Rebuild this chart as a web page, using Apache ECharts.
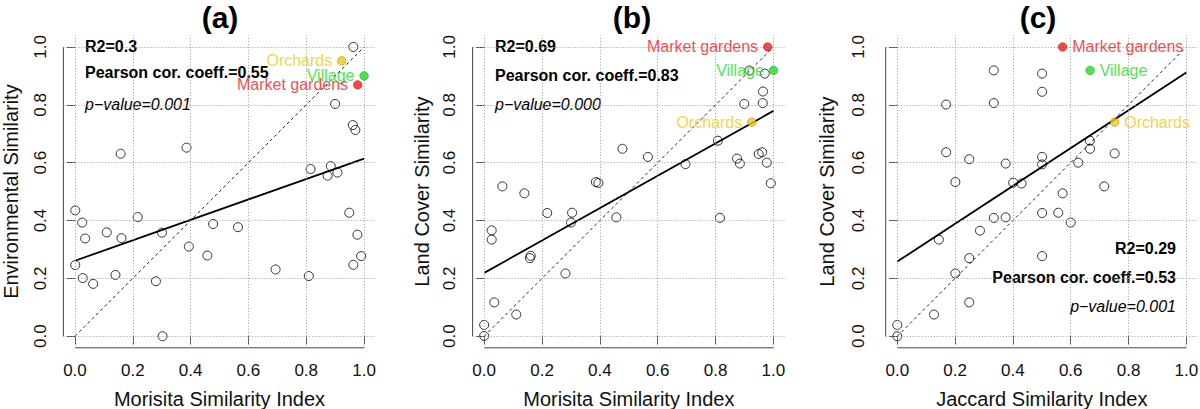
<!DOCTYPE html>
<html>
<head>
<meta charset="utf-8">
<script src="https://cdn.jsdelivr.net/npm/echarts@6/dist/echarts.min.js"></script>
<style>
  html, body { margin: 0; padding: 0; background: #fff; }
  #main { width: 1200px; height: 409px; }
</style>
</head>
<body>
<div id="main"></div>
<script>
// panel titles and axis names
const panelTitles = ["(a)", "(b)", "(c)"];
const xNames = ["Morisita Similarity Index", "Morisita Similarity Index", "Jaccard Similarity Index"];
const yNames = ["Environmental Similarity", "Land Cover Similarity", "Land Cover Similarity"];
const tickValues = [0, 0.2, 0.4, 0.6, 0.8, 1.0];

// (a) Morisita vs environmental similarity
const aX = [0.963, 0.900, 0.961, 0.970, 0.386, 0.158, 0.815, 0.885, 0.874, 0.908, 0.001, 0.949,
  0.025, 0.217, 0.478, 0.564, 0.110, 0.301, 0.035, 0.161, 0.977, 0.394, 0.458, 0.990,
  0.001, 0.963, 0.694, 0.140, 0.027, 0.809, 0.280, 0.063, 0.303];
const aY = [1.000, 0.803, 0.730, 0.713, 0.652, 0.631, 0.578, 0.588, 0.555, 0.566, 0.435, 0.427,
  0.393, 0.412, 0.388, 0.377, 0.359, 0.358, 0.338, 0.339, 0.351, 0.310, 0.279, 0.277,
  0.246, 0.247, 0.231, 0.212, 0.201, 0.208, 0.190, 0.181, 0.000];

// (b) Morisita vs land cover similarity
const bX = [0.917, 0.970, 0.964, 0.899, 0.963, 0.478, 0.566, 0.808, 0.696, 0.874, 0.884, 0.949,
  0.961, 0.977, 0.991, 0.063, 0.139, 0.386, 0.395, 0.218, 0.304, 0.300, 0.457, 0.815,
  0.026, 0.026, 0.161, 0.158, 0.281, 0.035, 0.111, 0.000, 0.000];
const bY = [0.919, 0.908, 0.846, 0.803, 0.806, 0.648, 0.620, 0.676, 0.595, 0.614, 0.597, 0.630,
  0.636, 0.600, 0.529, 0.518, 0.494, 0.533, 0.530, 0.426, 0.427, 0.393, 0.411, 0.409,
  0.366, 0.334, 0.278, 0.270, 0.217, 0.117, 0.075, 0.039, 0.001];

// (c) Jaccard vs land cover similarity
const cX = [0.334, 0.501, 0.501, 0.169, 0.334, 0.666, 0.667, 0.169, 0.752, 0.249, 0.501, 0.501,
  0.375, 0.626, 0.201, 0.401, 0.430, 0.716, 0.572, 0.334, 0.375, 0.501, 0.557, 0.600,
  0.286, 0.144, 0.249, 0.501, 0.201, 0.249, 0.127, 0.000, 0.000];
const cY = [0.919, 0.908, 0.845, 0.801, 0.806, 0.676, 0.648, 0.636, 0.632, 0.612, 0.620, 0.594,
  0.597, 0.600, 0.533, 0.531, 0.528, 0.518, 0.494, 0.409, 0.411, 0.426, 0.427, 0.393,
  0.365, 0.334, 0.270, 0.277, 0.217, 0.117, 0.075, 0.039, 0.000];

// highlighted land uses
const siteNames = ["Orchards", "Village", "Market gardens"];
const siteColors = ["#F2C80F", "#22DD22", "#EE1C1C"];
const siteBorders = ["#9a7d00", "#118811", "#991010"];
const aSiteX = [0.923, 1.000, 0.978];
const aSiteY = [0.952, 0.900, 0.869];
const bSiteX = [0.925, 1.000, 0.980];
const bSiteY = [0.740, 0.919, 1.000];
const cSiteX = [0.752, 0.667, 0.572];
const cSiteY = [0.740, 0.919, 1.000];

// fitted regression line, value at x=0 and x=1
const aFit = [0.261, 0.614];
const bFit = [0.219, 0.779];
const cFit = [0.258, 0.912];

// statistics text
const aStats = ["R2=0.3", "Pearson cor. coeff.=0.55", "p\u2212value=0.001"];
const bStats = ["R2=0.69", "Pearson cor. coeff.=0.83", "p\u2212value=0.000"];
const cStats = ["R2=0.29", "Pearson cor. coeff.=0.53", "p\u2212value=0.001"];

const FONT = "'Liberation Sans', Arial, Helvetica, sans-serif";
const LO = -0.04, HI = 1.04;

const panels = [
  { xs: aX, ys: aY, sx: aSiteX, sy: aSiteY, fit: aFit, stats: aStats, left: 63.4, width: 312.2,
    yGap: 42, yLabMargin: 14, labelPos: "left", titleX: 220, statX: 85, statAlign: "left", statY: [46, 72, 104] },
  { xs: bX, ys: bY, sx: bSiteX, sy: bSiteY, fit: bFit, stats: bStats, left: 472.6, width: 312.4,
    yGap: 41, yLabMargin: 15, labelPos: "left", titleX: 632, statX: 495, statAlign: "left", statY: [46, 75, 104] },
  { xs: cX, ys: cY, sx: cSiteX, sy: cSiteY, fit: cFit, stats: cStats, left: 885.7, width: 312.2,
    yGap: 49, yLabMargin: 19, labelPos: "right", titleX: 1038, statX: 1176, statAlign: "right", statY: [248, 277, 306] }
];

const grid = [], xAxis = [], yAxis = [], series = [], graphic = [];

panels.forEach((p, i) => {
  grid.push({ left: p.left, top: 35.4, width: p.width, height: 312.4, outerBoundsMode: "none", containLabel: false });
  const axisCommon = {
    type: "value", min: LO, max: HI, gridIndex: i,
    axisLine: { show: false },
    splitLine: { show: false },
    axisTick: { show: true, customValues: tickValues, length: 8, lineStyle: { color: "#444", width: 1 } },
    nameLocation: "middle",
    nameTextStyle: { fontFamily: FONT, fontSize: 20, color: "#111" }
  };
  xAxis.push(Object.assign({}, axisCommon, {
    name: xNames[i], nameGap: 41,
    axisLabel: { customValues: tickValues, margin: 14, fontFamily: FONT, fontSize: 17, color: "#111",
      formatter: (v) => v.toFixed(1) }
  }));
  yAxis.push(Object.assign({}, axisCommon, {
    name: yNames[i], nameGap: p.yGap,
    axisLabel: { customValues: tickValues, rotate: 90, margin: p.yLabMargin, fontFamily: FONT, fontSize: 17, color: "#111",
      formatter: (v) => v.toFixed(1) }
  }));

  const gridLineStyle = { color: "#9a9a9a", width: 1, type: [1, 2] };
  // 1:1 diagonal with background grid
  series.push({
    type: "line", xAxisIndex: i, yAxisIndex: i, z: 2, silent: true, showSymbol: false,
    data: [[0, 0], [1, 1]],
    lineStyle: { color: "#222", width: 1, type: [3, 3] },
    markLine: {
      silent: true, symbol: "none", label: { show: false }, lineStyle: gridLineStyle,
      data: tickValues.map(v => ({ xAxis: v })).concat(tickValues.map(v => ({ yAxis: v })))
    }
  });
  // axis lines from 0 to 1, R style
  series.push({
    type: "line", xAxisIndex: i, yAxisIndex: i, z: 2, silent: true, showSymbol: false, clip: false,
    data: [[0, LO], [1, LO]], lineStyle: { color: "#444", width: 1 }
  });
  series.push({
    type: "line", xAxisIndex: i, yAxisIndex: i, z: 2, silent: true, showSymbol: false, clip: false,
    data: [[LO, 0], [LO, 1]], lineStyle: { color: "#444", width: 1 }
  });
  // regression fit
  series.push({
    type: "line", xAxisIndex: i, yAxisIndex: i, z: 3, silent: true, showSymbol: false,
    data: [[0, p.fit[0]], [1, p.fit[1]]],
    lineStyle: { color: "#000", width: 1.8 }
  });
  // sample points
  series.push({
    type: "scatter", xAxisIndex: i, yAxisIndex: i, z: 4, symbol: "circle", symbolSize: 9, clip: false,
    data: p.xs.map((x, k) => [x, p.ys[k]]),
    itemStyle: { color: "rgba(255,255,255,0)", borderColor: "#000", borderWidth: 1 }
  });
  // highlighted land uses
  series.push({
    type: "scatter", xAxisIndex: i, yAxisIndex: i, z: 5, symbol: "circle", symbolSize: 8.5, clip: false,
    data: p.sx.map((x, k) => ({
      value: [x, p.sy[k]], name: siteNames[k],
      itemStyle: { color: siteColors[k], borderColor: siteBorders[k], borderWidth: 0.6 },
      label: { color: siteColors[k] }
    })),
    label: { show: true, position: p.labelPos, distance: 5, formatter: "{b}", fontFamily: FONT, fontSize: 16, lineHeight: 13 }
  });

  graphic.push({
    type: "text", x: p.titleX, y: 17,
    style: { text: panelTitles[i], font: "bold 30px " + FONT, fill: "#000", textAlign: "center", textVerticalAlign: "middle" }
  });
  p.stats.forEach((s, k) => {
    graphic.push({
      type: "text", x: p.statX, y: p.statY[k],
      style: { text: s, font: (k === 2 ? "italic " : "bold ") + "16px " + FONT, fill: "#000",
        textAlign: p.statAlign, textVerticalAlign: "middle" }
    });
  });
});

const chart = echarts.init(document.getElementById("main"), null, { renderer: "svg" });
chart.setOption({
  animation: false,
  backgroundColor: "#fff",
  grid, xAxis, yAxis, series, graphic
});
</script>
</body>
</html>
